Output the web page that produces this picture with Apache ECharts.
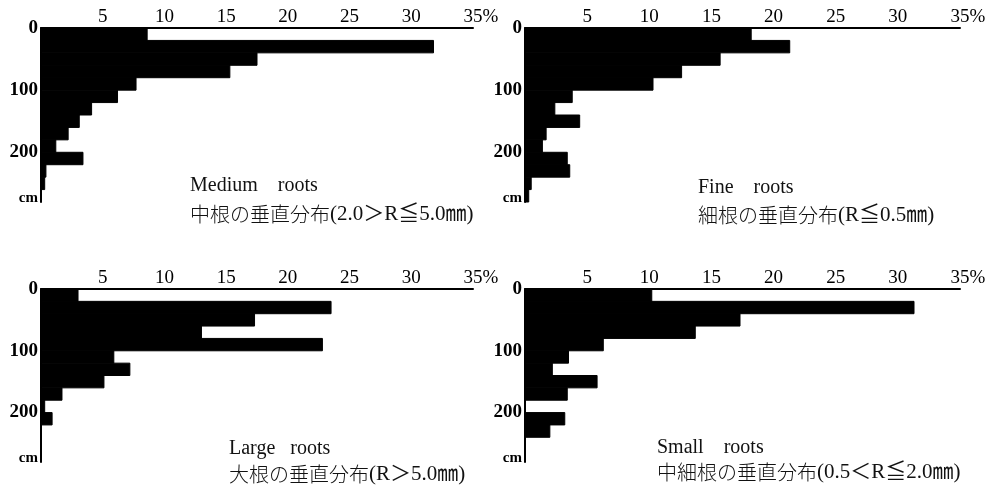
<!DOCTYPE html>
<html>
<head>
<meta charset="utf-8">
<script src="https://cdn.jsdelivr.net/npm/echarts@6/dist/echarts.min.js"></script>
<style>
html,body{margin:0;padding:0;background:#fff;}
#c{width:993px;height:494px;}
</style>
</head>
<body>
<div id="c"></div>
<script>
// depth bins (cm): each bar spans [start, start+20]
const depthStarts = [0, 20, 40, 60, 80, 100, 120, 140, 160, 180, 200, 220, 240, 260];
const binSize = 20;
const xTicks = [0, 5, 10, 15, 20, 25, 30, 35];
const yTicks = [0, 100, 200];

// percentage of roots in each depth bin
const mediumRoots = [8.6, 31.8, 17.5, 15.3, 7.7, 6.2, 4.1, 3.1, 2.2, 1.2, 3.4, 0.4, 0.3, 0];
const fineRoots   = [18.2, 21.3, 15.7, 12.6, 10.3, 3.8, 2.4, 4.4, 1.7, 1.4, 3.4, 3.6, 0.5, 0.3];
const largeRoots  = [3.0, 23.5, 17.3, 13.0, 22.8, 5.9, 7.2, 5.1, 1.7, 0.3, 0.9, 0, 0, 0];
const smallRoots  = [10.2, 31.3, 17.3, 13.7, 6.3, 3.5, 2.2, 5.8, 3.4, 0, 3.2, 2.0, 0, 0];

const panelNames = ['Medium    roots', 'Fine    roots', 'Large   roots', 'Small    roots'];
const panelSubsJp = ['中根の垂直分布', '細根の垂直分布', '大根の垂直分布', '中細根の垂直分布'];
const panelSubsRange = ['(2.0＞R≦5.0㎜)', '(R≦0.5㎜)', '(R＞5.0㎜)', '(0.5＜R≦2.0㎜)'];
const panelData = [mediumRoots, fineRoots, largeRoots, smallRoots];

const serif = "'Liberation Serif','DejaVu Serif',serif";
const cjk = "'Noto Sans CJK JP',sans-serif";
const mixed = "'Liberation Serif','Noto Sans CJK JP',serif";

const grids = [
  {left: 41, top: 28, width: 432, height: 174},
  {left: 525, top: 28, width: 435, height: 174},
  {left: 41, top: 289, width: 432, height: 173},
  {left: 525, top: 289, width: 435, height: 173}
];
const textPos = [
  {x: 190, y1: 176, y2: 204},
  {x: 698, y1: 178, y2: 205},
  {x: 229, y1: 439, y2: 464},
  {x: 657, y1: 438, y2: 462}
];

const xAxes = grids.map((g, i) => ({
  type: 'value', gridIndex: i, position: 'top', min: 0, max: 35, interval: 5,
  axisLine: {show: true, onZero: false, lineStyle: {color: '#000', width: 2}},
  axisTick: {show: false},
  splitLine: {show: false},
  axisLabel: {
    margin: 1, color: '#000', fontFamily: serif, fontSize: 19,
    formatter: v => v === 0 ? '' : (v === 35 ? '{h|%}35%' : String(v)),
    rich: {h: {color: 'rgba(0,0,0,0)', fontFamily: serif, fontSize: 19}}
  }
}));
const yAxes = grids.map((g, i) => ({
  type: 'value', gridIndex: i, inverse: true, min: 0, max: 280, interval: 20,
  axisLine: {show: true, onZero: false, lineStyle: {color: '#000', width: 2}},
  axisTick: {show: false},
  splitLine: {show: false},
  axisLabel: {
    margin: 3, color: '#000', fontFamily: serif, fontSize: 19, fontWeight: 'bold',
    formatter: v => yTicks.indexOf(v) >= 0 ? String(v) : (v === 280 ? '{cm|cm}' : ''),
    rich: {cm: {fontFamily: serif, fontSize: 15, fontWeight: 'bold', color: '#000', padding: [0, 0, 8, 0]}}
  }
}));

const series = panelData.map((vals, i) => ({
  type: 'custom', xAxisIndex: i, yAxisIndex: i,
  data: vals.map((v, k) => [v, depthStarts[k], depthStarts[k] + binSize]),
  encode: {x: 0, y: [1, 2]},
  renderItem: (params, api) => {
    const v = api.value(0);
    if (!v) return null;
    const p0 = api.coord([0, api.value(1)]);
    const p1 = api.coord([v, api.value(2)]);
    return {
      type: 'rect',
      shape: {x: p0[0], y: p0[1], width: p1[0] - p0[0], height: p1[1] - p0[1]},
      style: {fill: '#000', stroke: '#000', lineWidth: 1}
    };
  },
  silent: true, animation: false
}));

const graphics = [];
textPos.forEach((p, i) => {
  graphics.push({type: 'text', left: p.x, top: p.y1,
    style: {text: panelNames[i], fill: '#111', font: "20px " + serif}});
  graphics.push({type: 'text', left: p.x, top: p.y2,
    style: {
      text: '{j|' + panelSubsJp[i] + '}{r|' + panelSubsRange[i] + '}',
      rich: {
        j: {fontFamily: cjk, fontSize: 20, fontWeight: 300, fill: '#111', color: '#111'},
        r: {fontFamily: mixed, fontSize: 21, fill: '#111', color: '#111'}
      }
    }});
});

const chart = echarts.init(document.getElementById('c'), null, {renderer: 'canvas'});
chart.setOption({
  backgroundColor: '#fff',
  animation: false,
  grid: grids,
  xAxis: xAxes,
  yAxis: yAxes,
  series: series,
  graphic: graphics
});
</script>
</body>
</html>
